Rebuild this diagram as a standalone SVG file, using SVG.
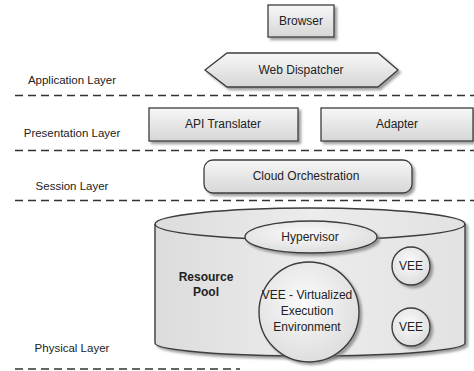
<svg xmlns="http://www.w3.org/2000/svg" width="474" height="371" viewBox="0 0 474 371">
<style>
text{font-family:"Liberation Sans",Arial,sans-serif;fill:#222;}
.lbl{font-size:11.5px;text-anchor:middle;}
.nt{font-size:12px;text-anchor:middle;}
.sep{stroke:#333;stroke-width:1.4;stroke-dasharray:8,5;fill:none;}
.box{fill:url(#gBox);stroke:#3c3c3c;stroke-width:1.3;filter:url(#sh);}
.circ{fill:url(#gCirc);stroke:#3c3c3c;stroke-width:1.4;filter:url(#sh);}
</style>
<defs>
<linearGradient id="gBox" x1="0" y1="0" x2="0" y2="1">
<stop offset="0" stop-color="#f7f7f7"/>
<stop offset="1" stop-color="#d6d6d6"/>
</linearGradient>
<linearGradient id="gCyl" x1="0" y1="0" x2="1" y2="0">
<stop offset="0" stop-color="#dcdcdc"/>
<stop offset="0.5" stop-color="#ececec"/>
<stop offset="1" stop-color="#e2e2e2"/>
</linearGradient>
<radialGradient id="gCirc" cx="0.45" cy="0.4" r="0.6">
<stop offset="0" stop-color="#fbfbfb"/>
<stop offset="1" stop-color="#dedede"/>
</radialGradient>
<filter id="sh" x="-10%" y="-10%" width="130%" height="140%">
<feDropShadow dx="2.5" dy="2.5" stdDeviation="1.2" flood-color="#777" flood-opacity="0.7"/>
</filter>
</defs>

<g id="separators">
<line class="sep" x1="15" y1="95.5" x2="474" y2="95.5"/>
<line class="sep" x1="15" y1="150.5" x2="474" y2="150.5"/>
<line class="sep" x1="15" y1="200.5" x2="474" y2="200.5"/>
<line class="sep" x1="15" y1="369" x2="240" y2="369"/>
</g>
<g id="connectors"/>

<g id="layer-labels">
<text class="lbl" x="72" y="84">Application Layer</text>
<text class="lbl" x="72" y="137">Presentation Layer</text>
<text class="lbl" x="72" y="190">Session Layer</text>
<text class="lbl" x="72" y="352">Physical Layer</text>
</g>

<g id="browser">
<rect class="box" x="268" y="5" width="66" height="32"/>
<text class="nt" x="301" y="25">Browser</text>
</g>

<g id="web-dispatcher">
<polygon class="box" points="205,70 227,53 378,53 398,70 378,87 227,87"/>
<text class="nt" x="301" y="74">Web Dispatcher</text>
</g>

<g id="api-translater">
<rect class="box" x="149" y="108" width="149" height="33"/>
<text class="nt" x="223" y="128">API Translater</text>
</g>

<g id="adapter">
<rect class="box" x="321" y="108" width="152" height="33"/>
<text class="nt" x="397" y="128">Adapter</text>
</g>

<g id="cloud-orchestration">
<rect class="box" x="204" y="160" width="208" height="33" rx="9" ry="9"/>
<text class="nt" x="306" y="180">Cloud Orchestration</text>
</g>

<g id="resource-pool">
<path d="M155,224 L155,343 A155,13 0 0 0 465,343 L465,224 A155,16 0 0 0 155,224 Z" fill="url(#gCyl)" stroke="#3c3c3c" stroke-width="1.4" filter="url(#sh)"/>
<path d="M155,224 A155,16 0 0 0 465,224" fill="none" stroke="#3c3c3c" stroke-width="1.4"/>
<text x="206" y="281" style="font-size:12px;font-weight:bold;text-anchor:middle">Resource</text>
<text x="206" y="296" style="font-size:12px;font-weight:bold;text-anchor:middle">Pool</text>
</g>

<g id="hypervisor">
<ellipse class="circ" cx="311" cy="237" rx="66" ry="16"/>
<text class="nt" x="310" y="241">Hypervisor</text>
</g>

<g id="vee-main">
<circle class="circ" cx="309" cy="312" r="50"/>
<text class="nt" x="307" y="299">VEE - Virtualized</text>
<text class="nt" x="307" y="315">Execution</text>
<text class="nt" x="307" y="331">Environment</text>
</g>

<g id="vee-1">
<circle class="circ" cx="411" cy="266" r="19"/>
<text class="nt" x="411" y="270">VEE</text>
</g>

<g id="vee-2">
<circle class="circ" cx="411" cy="327" r="19"/>
<text class="nt" x="411" y="331">VEE</text>
</g>
</svg>
